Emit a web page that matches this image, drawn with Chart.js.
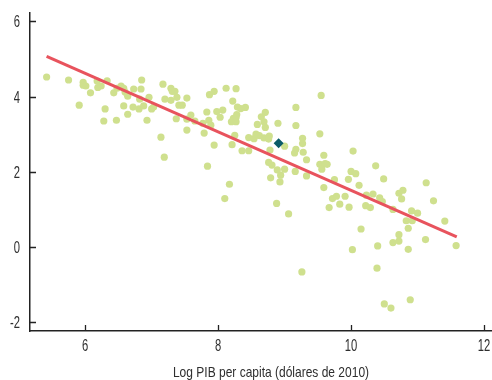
<!DOCTYPE html>
<html>
<head>
<meta charset="utf-8">
<script src="https://cdn.jsdelivr.net/npm/chart.js@4/dist/chart.umd.min.js"></script>
<style>
  html, body { margin: 0; padding: 0; background: #fff; overflow: hidden; }
  #wrap { width: 497px; height: 380px; position: relative; }
</style>
</head>
<body>
<div id="wrap"><canvas id="chart"></canvas></div>
<script>
// Data
const countryX = [
    5.42, 5.75, 5.91, 5.97, 5.97, 6.01, 6.08, 6.18, 6.19, 6.24, 6.33, 6.30, 6.28, 6.43, 6.47,
    6.48, 6.54, 6.58, 6.60, 6.64, 6.58, 6.64, 6.72, 6.73, 6.84, 6.85, 6.82, 6.81, 6.88, 6.96,
    6.93, 7.00, 7.03,
    7.14, 7.17, 7.20, 7.19, 7.29, 7.31, 7.35, 7.29, 7.38, 7.53, 7.41, 7.46, 7.37, 7.59, 7.53,
    7.65, 7.53, 7.79, 7.77, 7.86, 7.89, 7.83, 7.87, 7.94, 7.94, 7.84, 7.98, 8.07, 8.03, 8.12,
    8.27, 8.17, 8.10, 8.22, 8.29, 8.34, 8.41, 8.28, 8.27, 8.23, 8.20, 8.27, 8.25, 8.21, 8.36,
    8.46, 8.46,
    8.54, 8.57, 8.62, 8.69, 8.77, 8.76, 8.59, 8.65, 8.71, 8.69, 8.71, 8.76, 8.81, 8.78, 8.90,
    9.00, 8.89, 8.94, 9.00, 8.79, 8.93, 8.88, 9.06, 9.26, 9.17, 9.17, 9.27, 9.27, 9.17, 9.15,
    9.28, 9.33, 9.16, 9.33, 9.55, 9.53, 9.59, 9.53, 9.61, 9.64, 9.56, 9.59, 9.67, 9.72, 9.78,
    9.83, 9.91, 9.97, 9.75, 9.96,
    10.03, 10.00, 10.07, 10.12, 10.02, 10.15, 10.23, 10.33, 10.22, 10.29, 10.37, 10.49, 10.43,
    10.47, 10.40, 10.39, 10.50, 10.60, 10.63, 10.63, 10.72, 10.72, 10.72, 10.78, 10.76, 10.91,
    11.00, 10.83, 10.92, 10.86, 10.86, 10.89, 11.13, 11.12, 11.24, 11.41, 11.58
];
const countryY = [
    4.52, 4.44, 3.77, 4.38, 4.30, 4.28, 4.10, 4.41, 4.24, 4.28, 4.42, 3.67, 3.35, 4.10, 3.37,
    4.22, 4.28, 4.22, 4.12, 4.01, 3.75, 3.53, 3.72, 4.20, 4.20, 4.44, 3.93, 3.67, 3.75, 3.98,
    3.37, 3.67, 3.72,
    2.92, 4.33, 3.93, 2.39, 4.22, 4.14, 4.14, 3.90, 3.98, 3.96, 3.77, 3.77, 3.41, 3.51, 3.40,
    3.35, 3.11, 3.03, 3.29, 3.37, 3.24, 3.59, 4.05, 4.14, 2.71, 2.15, 3.60, 3.64, 3.45, 4.22,
    4.21, 1.67, 1.29, 3.88, 3.72, 3.68, 3.71, 3.52, 3.44, 3.42, 3.33, 3.33, 2.97, 2.72, 2.56,
    2.56, 2.91,
    2.88, 3.00, 2.96, 2.90, 2.95, 2.87, 3.26, 3.46, 3.58, 3.33, 3.18, 2.25, 2.18, 2.58, 3.29,
    2.68, 2.05, 1.91, 2.07, 1.84, 1.73, 1.16, 0.88, -0.66, 3.71, 3.23, 2.89, 2.75, 2.60, 2.50,
    2.52, 2.32, 2.01, 1.89, 4.03, 3.01, 2.44, 2.20, 2.22, 2.20, 2.07, 1.58, 1.05, 1.29, 1.35,
    1.14, 1.35, 1.06, 1.79, 1.80,
    2.55, 2.01, 1.95, 1.64, -0.07, 0.48, 1.38, 1.41, 1.10, 1.05, 2.16, 1.81, 1.31,
    1.21, 0.03, -0.56, -1.51, -1.62, 1.00, 0.12, 0.16, 0.33, 1.43, 1.51, 1.28, 0.96,
    0.90, 0.70, 0.70, 0.50, -0.06, -1.40, 1.71, 0.20, 1.23, 0.69, 0.04
];
const highlightX = [8.91];
const highlightY = [2.76];
const fitX = [5.42, 11.59];
const fitY = [5.07, 0.27];
const xTicks = [6, 8, 10, 12];
const yTicks = [-2, 0, 2, 4, 6];
const xTitle = 'Log PIB per capita (dólares de 2010)';

const FONT = "'Liberation Sans', Arial, sans-serif";

const toPoints = (xs, ys) => xs.map((x, i) => ({ x: x, y: ys[i] }));

// the reference uses a condensed face, so squeeze text horizontally
function condensedText(ctx, text, x, y, align, squeeze) {
    const w = ctx.measureText(text).width * squeeze;
    let left = x;
    if (align === 'center') left = x - w / 2;
    else if (align === 'right') left = x - w;
    ctx.save();
    ctx.translate(left, y);
    ctx.scale(squeeze, 1);
    ctx.textAlign = 'left';
    ctx.fillText(text, 0, 0);
    ctx.restore();
}

// inward tick marks, tick labels and axis title
const axisDecor = {
    id: 'axisDecor',
    afterDraw(chart) {
        const ctx = chart.ctx;
        const xs = chart.scales.x, ys = chart.scales.y;
        const area = chart.chartArea;
        ctx.save();
        ctx.strokeStyle = '#222';
        ctx.lineWidth = 1.3;
        ctx.beginPath();
        xTicks.forEach(v => {
            const px = Math.round(xs.getPixelForValue(v)) + 0.5;
            ctx.moveTo(px, area.bottom);
            ctx.lineTo(px, area.bottom - 6);
        });
        yTicks.forEach(v => {
            const py = Math.round(ys.getPixelForValue(v)) + 0.5;
            ctx.moveTo(area.left, py);
            ctx.lineTo(area.left + 6, py);
        });
        ctx.stroke();

        ctx.fillStyle = '#2e2e2e';
        ctx.textBaseline = 'alphabetic';
        ctx.font = '16.5px ' + FONT;
        xTicks.forEach(v => {
            condensedText(ctx, String(v), xs.getPixelForValue(v), area.bottom + 20, 'center', 0.68);
        });
        yTicks.forEach(v => {
            condensedText(ctx, String(v), area.left - 10, ys.getPixelForValue(v) + 6, 'right', 0.68);
        });
        ctx.font = '15px ' + FONT;
        condensedText(ctx, xTitle, 271, 377, 'center', 0.8);
        ctx.restore();
    }
};

const ctx = document.getElementById('chart').getContext('2d');
new Chart(ctx, {
    type: 'scatter',
    data: {
        datasets: [{
            label: 'highlight',
            data: toPoints(highlightX, highlightY),
            pointStyle: 'rectRot',
            pointRadius: 5,
            backgroundColor: '#0b5c69',
            borderColor: '#0b5c69',
            borderWidth: 0
        }, {
            label: 'fit',
            type: 'line',
            data: toPoints(fitX, fitY),
            borderColor: '#e8535d',
            borderWidth: 3,
            pointRadius: 0,
            fill: false
        }, {
            label: 'countries',
            data: toPoints(countryX, countryY),
            pointRadius: 3.6,
            backgroundColor: '#cfe08e',
            borderWidth: 0
        }]
    },
    options: {
        responsive: true,
        maintainAspectRatio: false,
        animation: false,
        layout: { padding: { left: 0, right: 0, top: 13, bottom: 0 } },
        plugins: {
            legend: { display: false },
            tooltip: { enabled: false }
        },
        scales: {
            x: {
                type: 'linear',
                min: 5.17,
                max: 12.12,
                afterBuildTicks: scale => { scale.ticks = xTicks.map(v => ({ value: v })); },
                afterFit: scale => {
                    scale.height = 49;
                    scale.paddingLeft = 0;
                    scale.paddingRight = 0;
                },
                grid: { display: false, drawTicks: false },
                border: { display: true, color: '#222', width: 1.5 },
                ticks: { display: false }
            },
            y: {
                type: 'linear',
                min: -2.23,
                max: 6.22,
                afterBuildTicks: scale => { scale.ticks = yTicks.map(v => ({ value: v })); },
                afterFit: scale => {
                    scale.width = 30;
                    scale.paddingTop = 0;
                    scale.paddingBottom = 0;
                },
                grid: { display: false, drawTicks: false },
                border: { display: true, color: '#222', width: 1.5 },
                ticks: { display: false }
            }
        }
    },
    plugins: [axisDecor]
});
</script>
</body>
</html>
